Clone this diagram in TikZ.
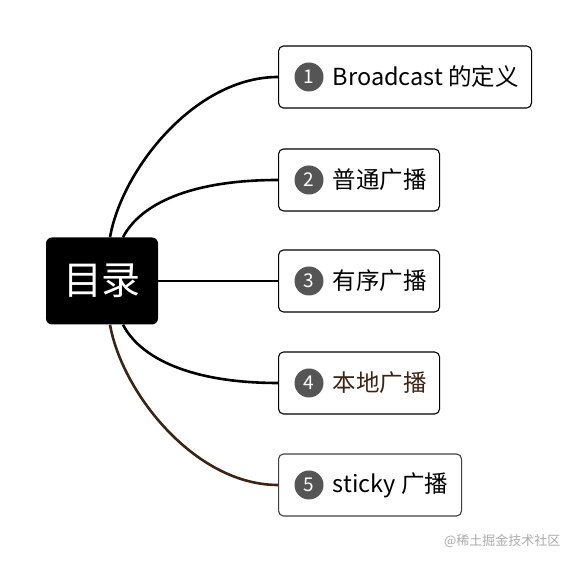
\documentclass[tikz,border=0pt]{standalone}
\usepackage{fontspec}
\setmainfont{Noto Sans CJK SC}
\usepackage{xcolor}
\usepackage{tikz}
\usetikzlibrary{positioning}
\definecolor{badgegray}{HTML}{555555}
\definecolor{branchbrown}{HTML}{3C2415}
\definecolor{markgray}{HTML}{ABABAB}

\begin{document}
\begin{tikzpicture}[x=1pt, y=1pt,
  topic/.style={fill=black, rounded corners=6pt, minimum width=112pt, minimum height=87pt,
    inner sep=0pt, text=white, font=\fontsize{39}{39}\selectfont},
  item/.style={draw, rounded corners=5pt, line width=1.1pt, minimum height=62pt,
    inner sep=0pt, anchor=west},
  badge/.style={circle, fill=badgegray, text=white, minimum size=29pt, inner sep=0pt,
    font=\fontsize{19}{19}\selectfont},
  itemtext/.style={inner sep=0pt, anchor=west, font=\fontsize{23.5}{23.5}\selectfont},
  branch/.style={line width=2.6pt}]
  \useasboundingbox (0,0) rectangle (579,564);

  % Key positions
  \def\boxx{278}
  \def\ya{487}
  \def\yb{384}
  \def\yc{283}
  \def\yd{181}
  \def\ye{79}

  % Central topic
  \node[topic] (toc) at (102,\yc) {目录};

  % Item boxes
  \node[item, minimum width=253pt] (b1) at (\boxx,\ya) {};
  \node[item, minimum width=161pt] (b2) at (\boxx,\yb) {};
  \node[item, minimum width=161pt] (b3) at (\boxx,\yc) {};
  \node[item, minimum width=161pt] (b4) at (\boxx,\yd) {};
  \node[item, minimum width=183pt, draw=black!75] (b5) at (\boxx,\ye) {};

  % Number badges and texts
  \foreach \i in {1,...,5}
    \node[badge] (n\i) at ([xshift=31pt]b\i.west) {\i};
  \node[itemtext, right=9pt of n1] (t1) {Broadcast 的定义};
  \node[itemtext, right=9pt of n2] (t2) {普通广播};
  \node[itemtext, right=9pt of n3] (t3) {有序广播};
  \node[itemtext, right=9pt of n4, text=branchbrown] (t4) {本地广播};
  \node[itemtext, right=9pt of n5] (t5) {sticky 广播};

  % Branches
  \draw[branch] ([xshift=8pt]toc.north) .. controls +(12,68) and +(-83,0) .. (b1.west);
  \draw[branch] ([xshift=21pt]toc.north) .. controls +(17,33) and +(-88,0) .. (b2.west);
  \draw[branch] (toc.east) -- (b3.west);
  \draw[branch] ([xshift=21pt]toc.south) .. controls +(17,-33) and +(-88,0) .. (b4.west);
  \draw[branch, branchbrown] ([xshift=8pt]toc.south) .. controls +(12,-68) and +(-83,0) .. (b5.west);

  % Watermark
  \node[text=markgray, font=\fontsize{13}{13}\selectfont, anchor=east] (mark) at (564,23) {@稀土掘金技术社区};
\end{tikzpicture}
\end{document}
